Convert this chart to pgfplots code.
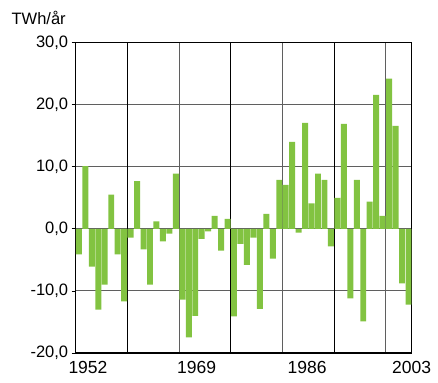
\documentclass[border=0pt]{standalone}
\usepackage{fontspec}
\setmainfont{Liberation Sans}
\usepackage{pgfplots}
\pgfplotsset{compat=1.18}
\definecolor{bargreen}{RGB}{130,195,65}
\definecolor{gridgray}{RGB}{95,95,95}
\begin{document}
\begin{tikzpicture}
\begin{axis}[
  name=ax,
  scale only axis,
  width=336pt, height=310.3pt,
  xmin=1951.5, xmax=2003.5,
  ymin=-20, ymax=30,
  ytick={-20,-10,0,10,20,30},
  xtick={1953.4,1970.2,1987.3,2003.5},
  xticklabels={1952,1969,1986,2003},
  xtick style={draw=none},
  minor xtick={1967.5,1983.5,1999.5},
  xminorgrids=true,
  minor x grid style={gridgray, line width=1pt},
  extra x ticks={1959.5,1975.5,1991.5},
  extra x tick labels={},
  extra x tick style={xmajorgrids=true, major x grid style={black, line width=1pt}},
  ymajorgrids=true,
  major y grid style={gridgray, line width=1pt},
  ytick pos=left,
  tick align=outside,
  major tick length=4pt,
  ytick style={black, line width=0.8pt},
  axis line style={black, line width=1.5pt},
  /pgf/number format/assume math mode=true,
  yticklabel style={/pgf/number format/.cd, fixed, fixed zerofill, precision=1, use comma},
  yticklabel={\pgfmathprintnumber{\tick}},
  tick label style={font=\fontsize{16.5}{18}\selectfont},
  xticklabel style={font=\fontsize{17.5}{19}\selectfont, yshift=-1pt},
  axis on top=false,
  clip=false,
]
\addplot[ybar, bar width=0.92, fill=bargreen, draw=none] coordinates {
(1952,-4.1) (1953,10.1) (1954,-6.1) (1955,-13.0) (1956,-9.0) (1957,5.5)
(1958,-4.1) (1959,-11.7) (1960,-1.4) (1961,7.7) (1962,-3.3) (1963,-9.0)
(1964,1.2) (1965,-2.0) (1966,-0.75) (1967,8.9) (1968,-11.4) (1969,-17.5)
(1970,-14.0) (1971,-1.6) (1972,-0.4) (1973,2.1) (1974,-3.5) (1975,1.6)
(1976,-14.1) (1977,-2.4) (1978,-5.8) (1979,-1.4) (1980,-12.9) (1981,2.4)
(1982,-4.8) (1983,7.9) (1984,7.1) (1985,14.0) (1986,-0.6) (1987,17.1)
(1988,4.1) (1989,8.9) (1990,7.9) (1991,-2.8) (1992,5.0) (1993,16.9)
(1994,-11.2) (1995,7.9) (1996,-14.9) (1997,4.4) (1998,21.6) (1999,2.1)
(2000,24.2) (2001,16.6) (2002,-8.8) (2003,-12.2)
};
\end{axis}
\node[font=\fontsize{16.5}{18}\selectfont, anchor=center] at ([xshift=-37pt,yshift=25pt]ax.north west) {TWh/år};
\path (ax.south west) ++(-75.7pt,-29pt) rectangle ([xshift=26.3pt,yshift=42.7pt]ax.north east);
\end{tikzpicture}
\end{document}
